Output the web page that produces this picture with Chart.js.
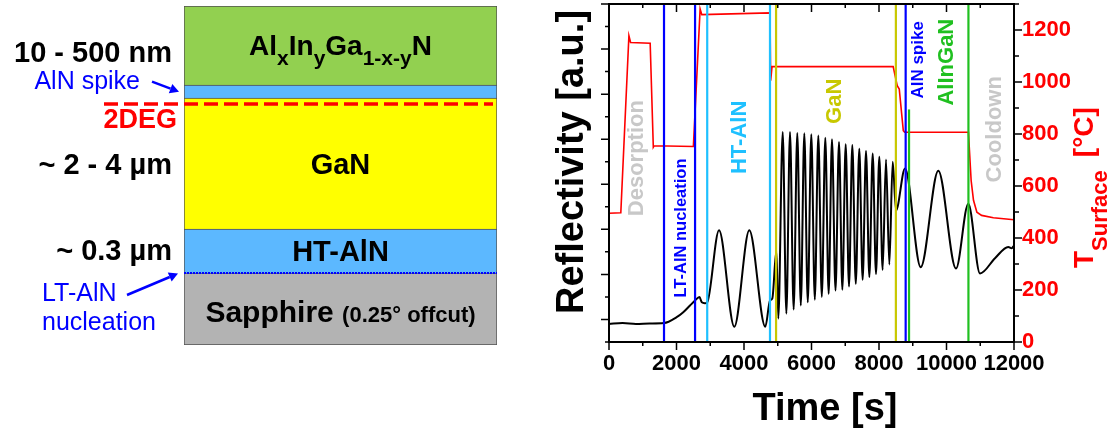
<!DOCTYPE html>
<html>
<head>
<meta charset="utf-8">
<style>
  body { margin: 0; background: #fff; width: 1115px; height: 430px; overflow: hidden; position: relative; }
  #stack { position: absolute; left: 0; top: 0; }
  #growth { position: absolute; left: 540px; top: 0; }
</style>
</head>
<body>
<canvas id="stack" width="540" height="430"></canvas>
<canvas id="growth" width="575" height="430"></canvas>
<script src="https://cdn.jsdelivr.net/npm/chart.js"></script>
<script>
// ---- layer stack, bottom to top (sketch units, not to scale) ----
const layerNames = ['Sapphire', 'HT-AlN', 'GaN', 'AlN spike', 'AlInGaN'];
const layerHeights = [72, 44, 131, 13, 79];
const layerColors = ['#b3b3b3', '#5cb8ff', '#ffff00', '#5cb8ff', '#92d050'];

// ---- in-situ reflectivity, time [s] / reflectivity [a.u.] ----
const reflTime = [0, 400, 800, 1200, 1630, 2005, 2200, 2400, 2550, 2680, 2750, 2840, 2910,
  3260, 3713, 4157, 4631, 4770, 4840, 4960, 5016,
  5147, 5255, 5363, 5471, 5579, 5683, 5787, 5890, 5994, 6098, 6202, 6305, 6409, 6508, 6607, 6711,
  6815, 6914, 7013, 7111, 7209, 7312, 7416, 7515, 7615, 7714, 7813, 7911, 8009, 8108, 8207, 8306, 8406,
  8504, 8771, 9236, 9757, 10282, 10646, 10993, 11437, 11831, 11932, 12000];
const reflValue = [-0.1, -0.08, -0.1, -0.09, -0.08, 0.05, 0.16, 0.31, 0.42, 0.50, 0.38, 0.36, 0.38,
  1.98, -0.16, 1.98, -0.16, 0.42, 0.47, 1.53, 0.02,
  4.16, 0.13, 4.16, 0.22, 4.14, 0.31, 4.13, 0.38, 4.11, 0.44, 4.08, 0.50, 4.03, 0.57, 4.00, 0.64,
  3.94, 0.66, 3.89, 0.73, 3.87, 0.79, 3.79, 0.88, 3.74, 0.94, 3.68, 1.01, 3.61, 1.10, 3.55, 1.22, 3.50,
  2.42, 3.35, 1.16, 3.30, 1.13, 2.57, 1.02, 1.36, 1.61, 1.58, 1.64];

// ---- surface temperature, time [s] / T [°C] ----
const tempTime = [0, 350, 590, 640, 1220, 1313, 1340, 2500, 2700, 2750, 4770, 4790, 4830, 8420,
  8540, 8600, 8720, 8760, 10650, 10730, 10800, 10900, 11040, 11390, 12000];
const tempValue = [495, 497, 1178, 1152, 1149, 749, 755, 752, 1281, 1259, 1266, 1005, 1059, 1059,
  986, 973, 813, 807, 807, 621, 545, 499, 487, 478, 470];

// ---- growth step markers ----
const stepTimes = [1630, 2550, 2910, 4770, 4950, 8500, 8790, 8890, 10650];
const stepColors = ['#0000ff', '#0000ff', '#1ec0ff', '#1ec0ff', '#c8c800', '#c8c800', '#0000ff', '#20c020', '#20c020'];
const stepTops = [7, 7, 7, 7, 7, 7, 7, 4.66, 7];

const timeTicks = [0, 2000, 4000, 6000, 8000, 10000, 12000];
const tempTicks = [0, 200, 400, 600, 800, 1000, 1200];

const phaseNames = ['Desorption', 'LT-AlN nucleation', 'HT-AlN', 'GaN', 'AlN spike', 'AlInGaN', 'Cooldown'];
const phaseColors = ['#c8c8c8', '#0000ff', '#1ec0ff', '#c8c800', '#0000ff', '#20c020', '#c8c8c8'];

const FONT = '"Liberation Sans", Arial, sans-serif';

function arrow(ctx, x1, y1, x2, y2, color) {
    ctx.save();
    ctx.strokeStyle = color;
    ctx.fillStyle = color;
    ctx.lineWidth = 2.5;
    const a = Math.atan2(y2 - y1, x2 - x1);
    const hx = x2 - 9 * Math.cos(a), hy = y2 - 9 * Math.sin(a);
    ctx.beginPath();
    ctx.moveTo(x1, y1);
    ctx.lineTo(hx, hy);
    ctx.stroke();
    ctx.beginPath();
    ctx.moveTo(x2, y2);
    ctx.lineTo(hx + 5 * Math.sin(a), hy - 5 * Math.cos(a));
    ctx.lineTo(hx - 5 * Math.sin(a), hy + 5 * Math.cos(a));
    ctx.closePath();
    ctx.fill();
    ctx.restore();
}

function txt(ctx, s, x, y, font, color, align) {
    ctx.font = font;
    ctx.fillStyle = color;
    ctx.textAlign = align || 'center';
    ctx.textBaseline = 'middle';
    ctx.fillText(s, x, y);
}

// labels and interface lines of the layer sketch
const stackLabels = {
    id: 'stackLabels',
    afterDatasetsDraw(chart) {
        const ctx = chart.ctx;
        const y = chart.scales.y;
        const area = chart.chartArea;
        const cx = (area.left + area.right) / 2;
        ctx.save();

        // 2DEG dashed line just below the AlN spike
        ctx.strokeStyle = '#ff0000';
        ctx.lineWidth = 3.5;
        ctx.setLineDash([14, 6]);
        ctx.beginPath();
        ctx.moveTo(104, y.getPixelForValue(241));
        ctx.lineTo(area.right - 4, y.getPixelForValue(241));
        ctx.stroke();

        // LT-AlN nucleation dotted line at the sapphire interface
        ctx.strokeStyle = '#0000ff';
        ctx.lineWidth = 2;
        ctx.setLineDash([2, 1]);
        ctx.beginPath();
        ctx.moveTo(area.left, y.getPixelForValue(72));
        ctx.lineTo(area.right, y.getPixelForValue(72));
        ctx.stroke();
        ctx.setLineDash([]);

        const bold = s => 'bold ' + s + 'px ' + FONT;
        const norm = s => s + 'px ' + FONT;

        // thickness labels
        txt(ctx, '10 - 500 nm', 172, y.getPixelForValue(291.5), bold(29), '#000', 'right');
        txt(ctx, '~ 2 - 4 µm', 172, y.getPixelForValue(179), bold(29), '#000', 'right');
        txt(ctx, '~ 0.3 µm', 172, y.getPixelForValue(93), bold(29), '#000', 'right');
        txt(ctx, 'AlN spike', 140, y.getPixelForValue(263), norm(25), '#0000ff', 'right');
        txt(ctx, '2DEG', 177, y.getPixelForValue(224), bold(27), '#ff0000', 'right');
        txt(ctx, 'LT-AlN', 42, y.getPixelForValue(51), norm(25), '#0000ff', 'left');
        txt(ctx, 'nucleation', 42, y.getPixelForValue(22), norm(25), '#0000ff', 'left');
        arrow(ctx, 152, y.getPixelForValue(263.3), 179, y.getPixelForValue(253.3), '#0000ff');
        arrow(ctx, 127, y.getPixelForValue(50), 178, y.getPixelForValue(71.5), '#0000ff');

        // layer names
        txt(ctx, 'GaN', cx, y.getPixelForValue(179), bold(29), '#000');
        txt(ctx, 'HT-AlN', cx, y.getPixelForValue(92.5), bold(29), '#000');

        // Sapphire (0.25° offcut)
        ctx.textBaseline = 'alphabetic';
        ctx.textAlign = 'left';
        ctx.font = bold(30);
        const w1 = ctx.measureText('Sapphire ').width;
        ctx.font = bold(22);
        const w2 = ctx.measureText('(0.25° offcut)').width;
        let x0 = cx - (w1 + w2) / 2;
        const base = y.getPixelForValue(23.5);
        ctx.fillStyle = '#000';
        ctx.font = bold(30);
        ctx.fillText('Sapphire ', x0, base);
        ctx.font = bold(22);
        ctx.fillText('(0.25° offcut)', x0 + w1, base);

        // AlxInyGa1-x-yN with subscripts
        const parts = [['Al', 0], ['x', 1], ['In', 0], ['y', 1], ['Ga', 0], ['1-x-y', 1], ['N', 0]];
        let total = 0;
        parts.forEach(p => { ctx.font = p[1] ? bold(21) : bold(28); total += ctx.measureText(p[0]).width; });
        x0 = cx - total / 2;
        const b2 = y.getPixelForValue(290);
        parts.forEach(p => {
            ctx.font = p[1] ? bold(21) : bold(28);
            ctx.fillText(p[0], x0, b2 + (p[1] ? 10 : 0));
            x0 += ctx.measureText(p[0]).width;
        });
        ctx.restore();
    }
};

new Chart(document.getElementById('stack'), {
    type: 'bar',
    data: {
        labels: ['stack'],
        datasets: layerNames.map((n, i) => ({
            label: n,
            data: [layerHeights[i]],
            backgroundColor: layerColors[i],
            borderColor: '#505050',
            borderWidth: {top: 1, left: 1, right: 1, bottom: i === 0 ? 1 : 0},
            borderSkipped: false,
            barPercentage: 1,
            categoryPercentage: 1
        }))
    },
    options: {
        responsive: false,
        animation: false,
        events: [],
        layout: {padding: {left: 184, right: 43, top: 6, bottom: 85}},
        plugins: {legend: {display: false}, tooltip: {enabled: false}},
        scales: {
            x: {stacked: true, display: false},
            y: {stacked: true, display: false, min: 0, max: 339}
        }
    },
    plugins: [stackLabels]
});

// phase label anchors: time [s], reflectivity [a.u.], font size
const phaseAt = [[830, 3.58, 22], [2154, 2.03, 16.5], [3881, 4.04, 22], [6696, 4.84, 22],
    [9156, 5.76, 17], [10006, 5.71, 22], [11437, 4.22, 22]];

// frame, ticks, tick labels, titles and phase labels
const growthDecor = {
    id: 'growthDecor',
    afterDatasetsDraw(chart) {
        const ctx = chart.ctx;
        const a = chart.chartArea;
        const sx = chart.scales.x, sr = chart.scales.yR, st = chart.scales.yT;
        ctx.save();

        // phase labels (rotated)
        phaseNames.forEach((name, i) => {
            const p = phaseAt[i];
            ctx.save();
            ctx.translate(sx.getPixelForValue(p[0]), sr.getPixelForValue(p[1]));
            ctx.rotate(-Math.PI / 2);
            txt(ctx, name, 0, 0, 'bold ' + p[2] + 'px ' + FONT, phaseColors[i]);
            ctx.restore();
        });

        ctx.strokeStyle = '#000';
        ctx.lineWidth = 2;
        ctx.strokeRect(a.left, a.top, a.right - a.left, a.bottom - a.top);

        ctx.lineWidth = 1.5;
        ctx.beginPath();
        for (let t = sx.min; t <= sx.max; t += 1000) {
            const x = sx.getPixelForValue(t);
            const len = timeTicks.includes(t) ? 8 : 4;
            ctx.moveTo(x, a.bottom); ctx.lineTo(x, a.bottom + len);
            ctx.moveTo(x, a.top); ctx.lineTo(x, a.top + len);
        }
        for (let v = sr.min; v <= sr.max; v += 0.5) {
            const y = sr.getPixelForValue(v);
            const len = Number.isInteger(v) ? 8 : 4;
            ctx.moveTo(a.left, y); ctx.lineTo(a.left - len, y);
        }
        for (let v = st.min; v <= st.max; v += 100) {
            const y = st.getPixelForValue(v);
            const len = tempTicks.includes(v) ? 8 : 5;
            ctx.moveTo(a.right, y); ctx.lineTo(a.right + len, y);
        }
        ctx.stroke();

        timeTicks.forEach(t => txt(ctx, String(t), sx.getPixelForValue(t), a.bottom + 22, 'bold 22px ' + FONT, '#000'));
        tempTicks.forEach(v => txt(ctx, String(v), a.right + 8, st.getPixelForValue(v), 'bold 22px ' + FONT, '#ff0000', 'left'));

        // axis titles
        ctx.font = 'bold 38px ' + FONT;
        ctx.fillStyle = '#000';
        ctx.textAlign = 'center';
        ctx.textBaseline = 'alphabetic';
        ctx.fillText('Time [s]', 285, 420);
        ctx.save();
        ctx.translate(43, 162);
        ctx.rotate(-Math.PI / 2);
        ctx.fillText('Reflectivity [a.u.]', 0, 0);
        ctx.restore();

        ctx.save();
        ctx.translate(553, 268);
        ctx.rotate(-Math.PI / 2);
        ctx.fillStyle = '#ff0000';
        ctx.textAlign = 'left';
        ctx.font = 'bold 28px ' + FONT;
        ctx.fillText('T', 0, 0);
        let x = ctx.measureText('T').width;
        ctx.font = 'bold 22px ' + FONT;
        ctx.fillText('Surface', x, 14);
        x += ctx.measureText('Surface').width + 13;
        ctx.font = 'bold 28px ' + FONT;
        ctx.fillText('[°C]', x, 0);
        ctx.restore();

        ctx.restore();
    }
};

const stepSets = stepTimes.map((t, i) => ({
    data: [{x: t, y: -0.5}, {x: t, y: stepTops[i]}],
    yAxisID: 'yR',
    borderColor: stepColors[i],
    borderWidth: 2.2,
    pointRadius: 0,
    order: 1
}));

new Chart(document.getElementById('growth'), {
    type: 'line',
    data: {
        datasets: [
            {
                label: 'Reflectivity',
                data: reflTime.map((t, i) => ({x: t, y: reflValue[i]})),
                yAxisID: 'yR',
                borderColor: '#000',
                borderWidth: 2,
                pointRadius: 0,
                cubicInterpolationMode: 'monotone',
                order: 3
            },
            {
                label: 'T surface',
                data: tempTime.map((t, i) => ({x: t, y: tempValue[i]})),
                yAxisID: 'yT',
                borderColor: '#ff0000',
                borderWidth: 1.6,
                pointRadius: 0,
                tension: 0,
                order: 2
            }
        ].concat(stepSets)
    },
    options: {
        responsive: false,
        animation: false,
        events: [],
        layout: {padding: {left: 69, right: 101, top: 4, bottom: 88}},
        plugins: {legend: {display: false}, tooltip: {enabled: false}},
        scales: {
            x: {type: 'linear', min: 0, max: 12000, display: false},
            yR: {type: 'linear', position: 'left', min: -0.5, max: 7, display: false},
            yT: {type: 'linear', position: 'right', min: 0, max: 1300, display: false}
        }
    },
    plugins: [growthDecor]
});
</script>
</body>
</html>
